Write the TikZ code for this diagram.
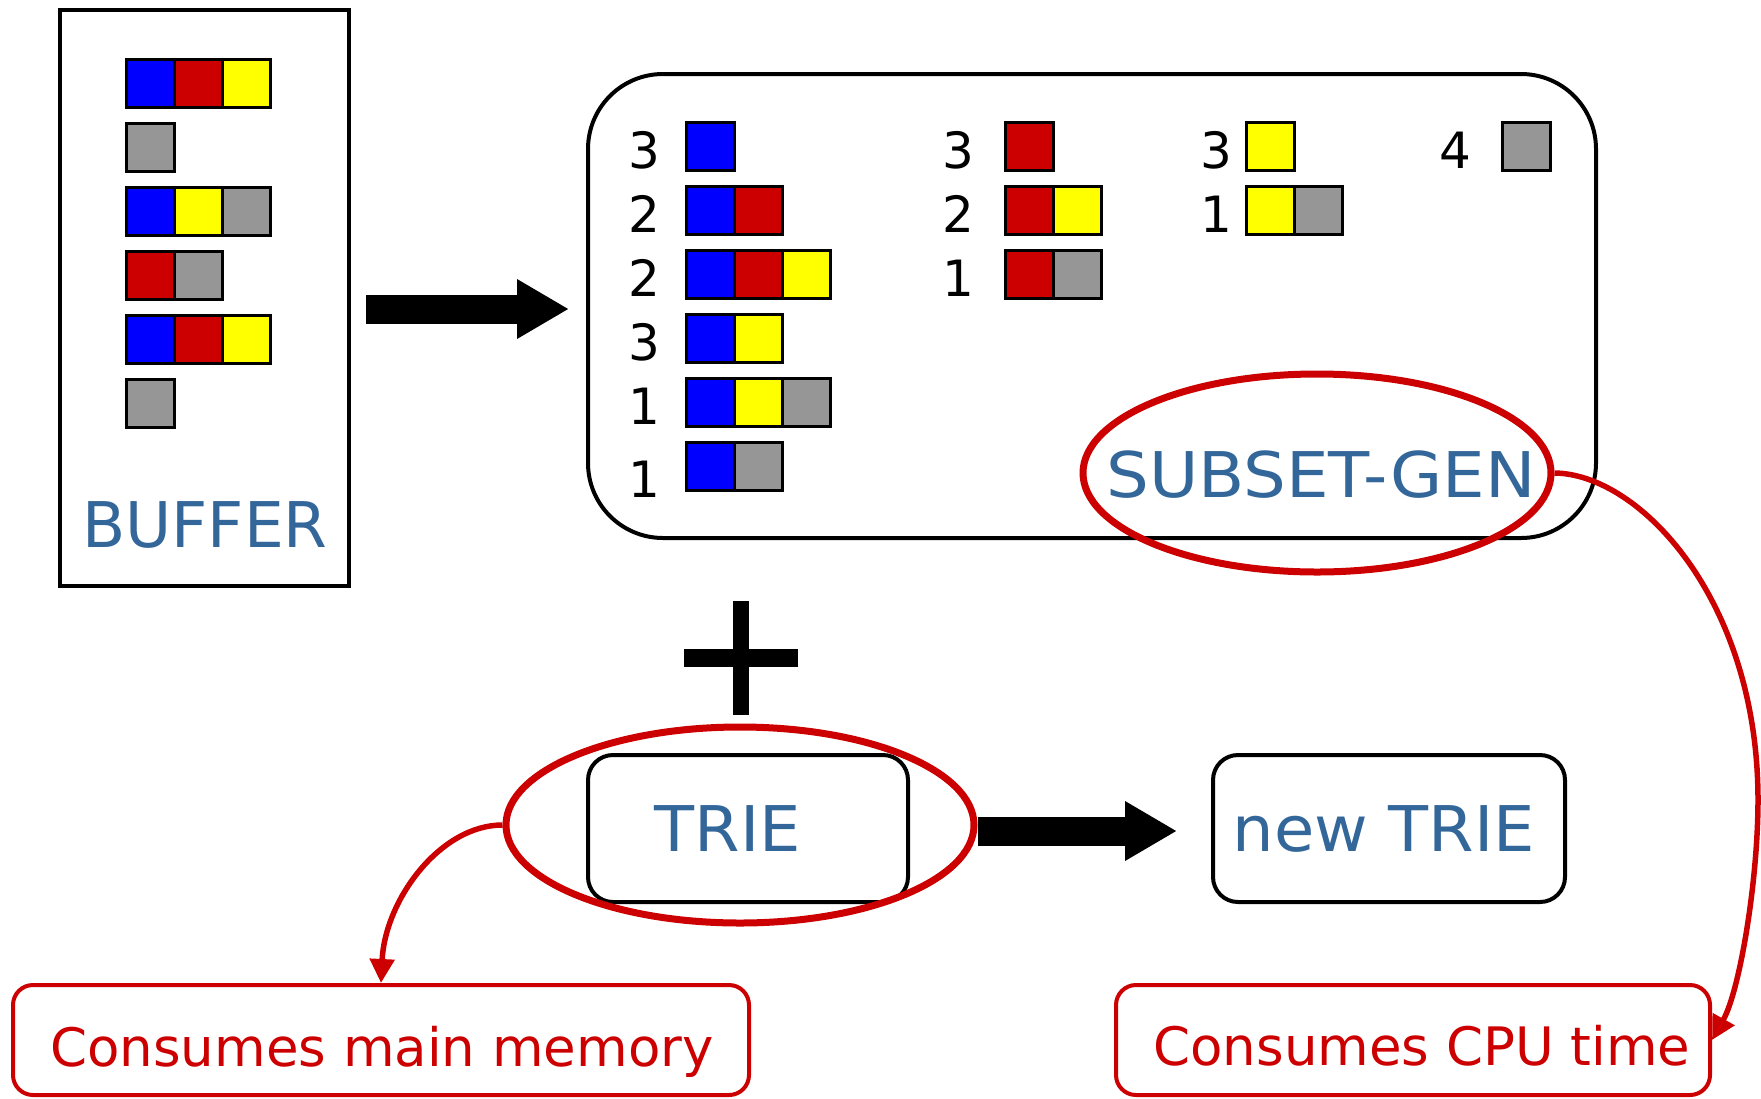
\documentclass[tikz,border=0pt]{standalone}
\usepackage{fontspec}
\setmainfont{DejaVu Sans}
\usetikzlibrary{arrows.meta,shapes.geometric,calc}
\definecolor{txtblue}{HTML}{336699}
\definecolor{cred}{HTML}{CC0000}
\definecolor{cblue}{HTML}{0000FF}
\definecolor{cyellow}{HTML}{FFFF00}
\definecolor{cgray}{HTML}{969696}
\newcommand\sqrow[4]{\foreach \col [count=\k from 0] in {#4} {\node[cell,fill=\col] (#1-\k) at ({#2+48*\k},#3) {};}}
\begin{document}
\begin{tikzpicture}[x=1pt,y=-1pt,
  cell/.style={draw=black,line width=2.5pt,minimum size=48pt,inner sep=0pt,anchor=north west},
  bigtxt/.style={text=txtblue,font=\fontsize{63}{70}\selectfont,inner sep=0pt,anchor=base},
  cnt/.style={font=\fontsize{50}{60}\selectfont,inner sep=0pt,anchor=base},
  redtxt/.style={text=cred,font=\fontsize{53}{60}\selectfont,inner sep=0pt,anchor=base},
  blackbox/.style={draw=black,line width=4pt,inner sep=0pt},
  redbox/.style={draw=cred,line width=4pt,inner sep=0pt,rounded corners=20pt},
  redell/.style={draw=cred,line width=7pt,ellipse,inner sep=0pt},
  bigarrow/.style={line width=29pt,-{Triangle[length=52pt,width=56pt]}},
  redarrow/.style={draw=cred,line width=5.5pt,-{Triangle[length=24pt,width=24pt]}}
]
\useasboundingbox (0,0) rectangle (1761,1098);

% BUFFER
\node[blackbox, minimum width=289pt, minimum height=576pt] (buffer) at (204.5,298) {};
\sqrow{b1}{125}{58}{cblue,cred,cyellow}
\sqrow{b2}{125}{122}{cgray}
\sqrow{b3}{125}{186}{cblue,cyellow,cgray}
\sqrow{b4}{125}{250}{cred,cgray}
\sqrow{b5}{125}{314}{cblue,cred,cyellow}
\sqrow{b6}{125}{378}{cgray}
\node[bigtxt] (buffertxt) at (205,547) {BUFFER};

% SUBSET-GEN box
\node[blackbox, rounded corners=75pt, minimum width=1008pt, minimum height=464pt] (subset) at (1092,306) {};
\sqrow{s11}{685}{121}{cblue}
\sqrow{s12}{685}{185}{cblue,cred}
\sqrow{s13}{685}{249}{cblue,cred,cyellow}
\sqrow{s14}{685}{313}{cblue,cyellow}
\sqrow{s15}{685}{377}{cblue,cyellow,cgray}
\sqrow{s16}{685}{441}{cblue,cgray}
\sqrow{s21}{1004}{121}{cred}
\sqrow{s22}{1004}{185}{cred,cyellow}
\sqrow{s23}{1004}{249}{cred,cgray}
\sqrow{s31}{1245}{121}{cyellow}
\sqrow{s32}{1245}{185}{cyellow,cgray}
\sqrow{s41}{1501}{121}{cgray}
\node[cnt] (d11) at (644,168) {3};
\node[cnt] (d12) at (644,232) {2};
\node[cnt] (d13) at (644,296) {2};
\node[cnt] (d14) at (644,360) {3};
\node[cnt] (d15) at (644,424) {1};
\node[cnt] (d16) at (644,497) {1};
\node[cnt] (d21) at (958,168) {3};
\node[cnt] (d22) at (958,232) {2};
\node[cnt] (d23) at (958,296) {1};
\node[cnt] (d31) at (1216,168) {3};
\node[cnt] (d32) at (1216,232) {1};
\node[cnt] (d41) at (1455,168) {4};
\node[bigtxt] (subsettxt) at (1321,497) {\scalebox{1.07}[1]{SUBSET-GEN}};

% plus sign
\fill (733,601) rectangle (749,715);
\fill (684,649) rectangle (798,667);

% TRIE boxes
\node[blackbox, rounded corners=25pt, minimum width=320pt, minimum height=147pt] (trie) at (748,828.5) {};
\node[bigtxt] (trietxt) at (728,851) {\scalebox{1.04}[1]{TRIE}};
\node[blackbox, rounded corners=25pt, minimum width=352pt, minimum height=147pt] (newtrie) at (1389,828.5) {};
\node[bigtxt] (newtrietxt) at (1384,851) {\scalebox{1.04}[1]{new TRIE}};

% red boxes
\node[redbox, minimum width=736pt, minimum height=110pt] (mem) at (381,1040) {};
\node[redtxt] (memtxt) at (382,1066) {Consumes main memory};
\node[redbox, minimum width=594pt, minimum height=110pt] (cpu) at (1413,1040) {};
\node[redtxt] (cputxt) at (1422,1065) {Consumes CPU time};

% red ellipses
\node[redell, minimum width=468pt, minimum height=198pt] (subsetell) at (1317,473) {};
\node[redell, minimum width=468pt, minimum height=196pt] (trieell) at (740,825) {};

% big arrows
\coordinate (a1y) at (0,309);
\coordinate (a2y) at (0,831);
\draw[bigarrow] ($(buffer.east|-a1y)+(15,0)$) -- ($(subset.west|-a1y)+(-17,0)$);
\draw[bigarrow] (trieell.east|-a2y) -- ($(newtrie.west|-a2y)+(-34,0)$);

% red connectors
\draw[redarrow] (trieell.west) .. controls (440,825) and (385,900) .. (mem.north);
\draw[redarrow] (subsetell.east) .. controls (1640,474) and (1758,600) .. (1758,800) .. controls (1758,880) and (1740,990) .. (cpu.east);
\end{tikzpicture}
\end{document}
